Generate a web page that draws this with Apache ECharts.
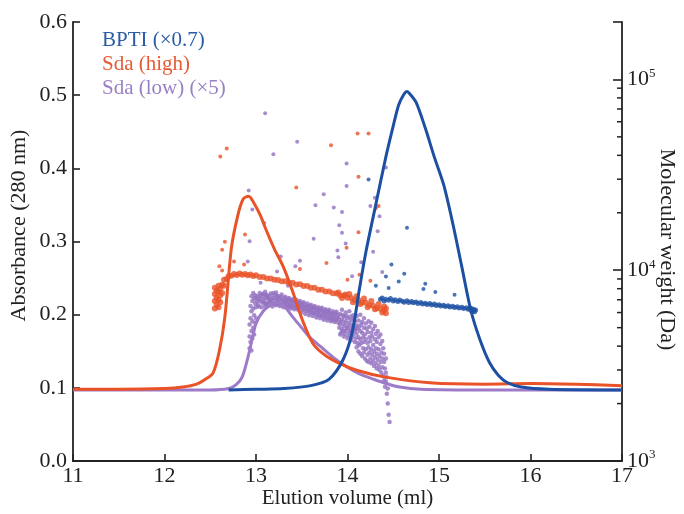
<!DOCTYPE html>
<html>
<head>
<meta charset="utf-8">
<script src="https://cdn.jsdelivr.net/npm/echarts@6/dist/echarts.min.js"></script>
<style>html,body{margin:0;padding:0;background:#fff;overflow:hidden;}#c{width:684px;height:514px;}</style>
</head>
<body>
<div id="c"></div>
<script>
// ---------- data ----------
const seriesNames = ['BPTI (×0.7)', 'Sda (high)', 'Sda (low) (×5)'];
const xTicks = [11, 12, 13, 14, 15, 16, 17];
const absTicks = [0.0, 0.1, 0.2, 0.3, 0.4, 0.5, 0.6];
const mwMajorTicks = [1000, 10000, 100000];
const mwMinorTicks = [2000, 3000, 4000, 5000, 6000, 7000, 8000, 9000,
                      20000, 30000, 40000, 50000, 60000, 70000, 80000, 90000];

// Absorbance traces (elution volume, absorbance)
const bptiX = [12.7, 13.0, 13.3, 13.6, 13.8, 13.95, 14.05, 14.13, 14.2, 14.3, 14.42, 14.5, 14.56, 14.62, 14.65, 14.68, 14.75, 14.85, 14.95, 15.05, 15.15, 15.25, 15.35, 15.45, 15.55, 15.65, 15.75, 15.9, 16.2, 17];
const bptiY = [0.097, 0.098, 0.099, 0.103, 0.112, 0.138, 0.175, 0.235, 0.285, 0.345, 0.416, 0.458, 0.487, 0.502, 0.505, 0.502, 0.49, 0.455, 0.415, 0.378, 0.325, 0.265, 0.205, 0.165, 0.135, 0.117, 0.107, 0.101, 0.098, 0.097];

const highX = [11, 11.5, 12.0, 12.2, 12.35, 12.45, 12.53, 12.6, 12.66, 12.73, 12.8, 12.86, 12.92, 12.98, 13.05, 13.11, 13.2, 13.3, 13.4, 13.5, 13.62, 13.75, 13.9, 14.1, 14.4, 14.9, 15.5, 16.0, 16.5, 17];
const highY = [0.098, 0.098, 0.099, 0.101, 0.105, 0.112, 0.12, 0.151, 0.197, 0.29, 0.335, 0.358, 0.362, 0.352, 0.335, 0.316, 0.29, 0.265, 0.232, 0.195, 0.161, 0.145, 0.134, 0.124, 0.115, 0.107, 0.105, 0.106, 0.105, 0.103];

const lowX = [11, 12, 12.5, 12.7, 12.78, 12.85, 12.93, 13.0, 13.08, 13.16, 13.24, 13.32, 13.4, 13.5, 13.58, 13.7, 13.84, 14.0, 14.13, 14.28, 14.42, 14.57, 14.8, 15.5, 16, 17];
const lowY = [0.097, 0.097, 0.097, 0.099, 0.104, 0.115, 0.151, 0.188, 0.205, 0.213, 0.216, 0.21, 0.197, 0.182, 0.17, 0.157, 0.142, 0.128, 0.119, 0.112, 0.106, 0.101, 0.098, 0.097, 0.097, 0.097];

// Molecular weight points (elution volume, Da)
const bptiMw = [[14.36,7050],[14.38,7150],[14.40,6900],[14.42,7050],[14.45,6950],[14.47,7100],[14.50,6900],[14.52,7000],[14.55,6850],[14.57,6980],[14.60,6880],[14.62,6800],[14.65,6920],[14.67,6780],[14.70,6850],[14.72,6750],[14.75,6820],[14.77,6700],[14.80,6780],[14.82,6650],[14.85,6720],[14.87,6620],[14.90,6700],[14.92,6580],[14.95,6650],[14.97,6540],[15.00,6600],[15.02,6500],[15.05,6560],[15.07,6460],[15.10,6520],[15.12,6420],[15.15,6480],[15.17,6380],[15.20,6440],[15.22,6340],[15.25,6400],[15.27,6300],[15.30,6360],[15.32,6250],[15.34,6330],[15.35,6150],[15.36,6280],[15.37,6100],[15.38,6230],[15.39,6050],[15.40,6180]];
const bptiMwOut = [[14.23,29900],[14.65,16700],[14.48,10700],[14.62,9590],[14.56,8730],[14.85,8490],[14.83,7960],[14.96,7680],[15.17,7430],[14.42,9280],[14.45,8060],[14.31,8300]];

const highMw = [[12.55,6300],[12.55,6900],[12.55,7500],[12.55,8100],[12.57,6600],[12.57,7200],[12.57,7800],[12.59,6400],[12.59,7000],[12.59,7700],[12.59,8300],[12.61,6800],[12.61,7400],[12.61,8000],[12.63,7600],[12.63,8400],[12.65,8300],[12.65,8900],[12.68,9000],[12.70,9300],[12.73,9350],[12.76,9550],[12.79,9450],[12.82,9600],[12.85,9480],[12.88,9560],[12.91,9400],[12.94,9500],[12.97,9330],[13.00,9420],[13.04,9220],[13.08,9200],[13.12,9060],[13.16,9040],[13.20,8910],[13.24,8890],[13.28,8740],[13.32,8740],[13.36,8580],[13.40,8590],[13.44,8410],[13.48,8430],[13.52,8260],[13.56,8260],[13.60,8090],[13.64,8090],[13.68,7910],[13.72,7890],[13.76,7740],[13.80,7740],[13.84,7570],[13.88,7540],[13.92,7380],[13.96,7370],[14.00,7180],[14.04,7160],[14.08,6980],[14.12,6960],[14.16,6780],[14.20,6760],[14.24,6560],[14.28,6520],[14.32,6330],[14.36,6290],[14.40,6110],[14.02,7500],[14.06,6800],[14.10,7300],[14.14,6650],[14.18,7100],[14.22,6400],[14.26,6900],[14.30,6250],[14.34,6650],[14.38,6000],[14.40,6450],[14.42,5950],[14.42,6300],[13.90,7650],[13.94,7150],[13.98,7450]];
const highMwOut = [[12.61,39400],[12.68,43400],[13.44,27100],[13.82,45200],[14.11,52100],[14.23,52100],[14.12,30900],[14.12,15800],[13.99,13100],[13.77,10900],[12.88,15400],[12.66,14100],[12.63,12800],[12.63,9960],[12.76,11100],[12.87,10700],[14.31,21200],[14.34,21700],[14.00,8910],[14.13,9470],[13.48,10150],[12.60,10500],[14.25,8800]];

const lowMw = [[12.93,3900],[12.93,4500],[12.93,5200],[12.94,4200],[12.94,5600],[12.94,6500],[12.95,3800],[12.95,4800],[12.95,6100],[12.95,7300],[12.96,4400],[12.96,5400],[12.96,6900],[12.97,5000],[12.97,6300],[12.97,7600],[12.98,4600],[12.98,5800],[12.98,7100],[12.99,5300],[12.99,6700],[12.99,7400],[13.00,5600],[13.00,6400],[13.00,7200],
[13.02,6600],[13.02,7300],[13.04,6900],[13.04,7600],[13.06,6400],[13.06,7100],[13.08,6800],[13.08,7450],[13.10,6500],[13.10,7200],[13.10,7700],[13.12,6750],[13.12,7350],[13.14,6600],[13.14,7050],[13.16,6900],[13.16,7550],[13.18,6450],[13.18,7150],[13.20,6700],[13.20,7400],[13.22,6550],[13.22,7000],[13.22,7650],[13.24,6800],[13.24,7300],[13.26,6500],[13.26,7100],[13.28,6700],[13.28,7450],[13.30,6400],[13.30,6950],[13.32,6650],[13.32,7250],[13.34,6350],[13.34,6900],[13.36,6550],[13.36,7150],[13.38,6300],[13.38,6850],[13.40,6500],[13.40,7050],[13.42,6250],[13.42,6800],[13.44,6450],[13.44,7000],[13.46,6200],[13.46,6700],[13.48,6400],[13.48,6900],
[13.50,6000],[13.50,6600],[13.52,6250],[13.52,6800],[13.54,5900],[13.54,6450],[13.56,6150],[13.56,6700],[13.58,5800],[13.58,6350],[13.60,6050],[13.60,6600],[13.62,5750],[13.62,6300],[13.64,5950],[13.64,6500],[13.66,5650],[13.66,6200],[13.68,5900],[13.68,6400],[13.70,5600],[13.70,6150],[13.72,5800],[13.72,6350],[13.74,5500],[13.74,6050],[13.76,5750],[13.76,6250],[13.78,5450],[13.78,6000],[13.80,5650],[13.80,6200],[13.82,5400],[13.82,5900],[13.84,5600],[13.84,6100],[13.86,5350],[13.86,5850],[13.88,5550],[13.88,6050],[13.90,5300],[13.90,5800],
[13.92,4600],[13.92,5200],[13.92,5900],[13.94,4900],[13.94,5500],[13.94,6200],[13.96,4500],[13.96,5100],[13.96,5700],[13.98,4800],[13.98,5400],[13.98,6000],[14.00,4400],[14.00,5000],[14.00,5600],[14.02,4700],[14.02,5300],[14.02,6100],[14.04,4300],[14.04,4900],[14.04,5500],[14.06,4600],[14.06,5200],[14.06,5800],[14.08,4200],[14.08,4800],[14.08,5400],
[14.10,3950],[14.10,4650],[14.10,5150],[14.10,5750],[14.11,4150],[14.11,4900],[14.12,3750],[14.12,4450],[14.12,5450],[14.13,4050],[14.13,5050],[14.14,3650],[14.14,4350],[14.14,4800],[14.14,5850],[14.15,4150],[14.15,5200],[14.16,3550],[14.16,4700],[14.16,5350],[14.17,3900],[14.17,4450],[14.18,3700],[14.18,4200],[14.18,5000],[14.18,5600],[14.19,3450],[14.19,4600],[14.20,3850],[14.20,4350],[14.20,5250],[14.21,3350],[14.21,4950],[14.22,3600],[14.22,4150],[14.22,4750],[14.23,3300],[14.23,3950],[14.23,5400],[14.24,3700],[14.24,4450],[14.24,5050],[14.25,3450],[14.25,4250],[14.26,3250],[14.26,3850],[14.26,4700],[14.26,5300],[14.27,3600],[14.27,4500],[14.28,3350],[14.28,4050],[14.28,4900],[14.29,3150],[14.29,3750],[14.30,3500],[14.30,4350],[14.30,5100],[14.31,3250],[14.31,3900],[14.31,4650],[14.32,3050],[14.32,3650],[14.32,4200],[14.33,3400],[14.33,4800],[14.34,3150],[14.34,3850],[14.34,4450],[14.35,3000],[14.35,3550],[14.36,3300],[14.36,4100],[14.36,4600],[14.37,2900],[14.37,3700],[14.38,3100],[14.38,3450],[14.38,4250],[14.39,2800],[14.39,3900],[14.40,2650],[14.40,3300],[14.40,3650],[14.41,2450],[14.41,3050],[14.42,2600],[14.42,2900],[14.42,3450],[14.43,2250],[14.43,2750],[14.44,2000],[14.44,2400],[14.45,1750],[14.46,1600],
[13.01,6900],[13.03,7050],[13.03,6450],[13.05,7350],[13.07,6750],[13.07,7500],[13.09,7000],[13.11,6650],[13.11,7450],[13.13,7150],[13.15,6800],[13.15,7350],[13.17,7000],[13.19,6750],[13.19,7600],[13.21,7100],[13.23,6650],[13.23,7350],[13.25,6950],[13.27,6600],[13.27,7250],[13.29,6900],[13.31,6550],[13.31,7150],[13.33,6800],[13.35,6450],[13.35,7050],[13.37,6700],[13.39,6400],[13.39,6950],[13.41,6650],[13.43,6350],[13.43,6900],[13.45,6600],[13.47,6300],[13.47,6800],[13.49,6500],[13.51,6200],[13.51,6700],[13.53,6400],[13.55,6100],[13.55,6550],[13.57,6300],[13.59,6000],[13.59,6500],[13.61,6250],[13.63,5950],[13.63,6400],[13.65,6100],[13.67,5800],[13.67,6300],[13.69,6050],[13.71,5750],[13.71,6250],[13.73,5950],[13.75,5650],[13.75,6150],[13.77,5900],[13.79,5600],[13.79,6100],[13.81,5800],[13.83,5500],[13.83,5950],[13.85,5700],[13.87,5450],[13.87,5950],[13.89,5650],[13.91,5000],[13.91,5550],[13.93,4700],[13.93,5350],[13.95,4800],[13.95,5800],[13.97,4650],[13.97,5250],[13.99,4950],[13.99,5750],[14.01,4550],[14.01,5150],[14.03,4800],[14.03,5700],[14.05,4450],[14.05,5050],[14.07,4900],[14.07,5600],[14.09,4400],[14.09,5000]];
const lowMwOut = [[13.10,66400],[13.45,47100],[13.19,40500],[12.92,26200],[12.96,20800],[13.09,17700],[13.99,36200],[13.99,27600],[13.74,25000],[13.65,21900],[13.85,21300],[13.94,20200],[13.91,17200],[13.94,15700],[13.63,14600],[13.89,12700],[13.90,11700],[12.93,14200],[12.91,11100],[13.27,11800],[13.48,11200],[13.43,10500],[13.23,9840],[14.42,34500],[14.25,21700],[14.35,19200],[14.30,24000],[14.33,16000],[14.28,12500],[14.15,11000],[14.38,9800],[14.05,9300],[13.98,13800],[13.05,8600],[13.35,8300]];

// ---------- chart ----------
const C_BLUE = '#1d50a2', C_RED = '#ea5228', C_PURPLE = '#9e7bc8';
const FONT = 'Liberation Serif';
const pairs = (xs, ys) => xs.map((x, i) => [x, ys[i]]);

const chart = echarts.init(document.getElementById('c'), null, {renderer: 'canvas'});
chart.setOption({
  animation: false,
  backgroundColor: '#fff',
  grid: {left: 73, right: 62, top: 22, bottom: 53, containLabel: false, outerBoundsMode: 'none'},
  legend: {
    orient: 'vertical', left: 92, top: 25, itemGap: 3, itemWidth: 0, itemHeight: 10,
    icon: 'none', selectedMode: false,
    textStyle: {fontFamily: FONT, fontSize: 21, lineHeight: 21},
    data: [
      {name: seriesNames[0], textStyle: {color: '#2a5ca5'}},
      {name: seriesNames[1], textStyle: {color: '#e65a34'}},
      {name: seriesNames[2], textStyle: {color: '#9b7fc4'}}
    ]
  },
  xAxis: {
    type: 'value', min: xTicks[0], max: xTicks[xTicks.length - 1], interval: 1,
    name: 'Elution volume (ml)', nameLocation: 'middle', nameGap: 27, nameMoveOverlap: false,
    nameTextStyle: {fontFamily: FONT, fontSize: 21, color: '#222'},
    axisLine: {lineStyle: {color: '#222', width: 1.8}},
    axisTick: {inside: true, length: 7, lineStyle: {color: '#222', width: 1.6}},
    axisLabel: {fontFamily: FONT, fontSize: 22, color: '#222', margin: 4},
    splitLine: {show: false}
  },
  yAxis: [{
    type: 'value', min: absTicks[0], max: absTicks[absTicks.length - 1], interval: 0.1,
    name: 'Absorbance (280 nm)', nameLocation: 'middle', nameGap: 43, nameMoveOverlap: false,
    nameTextStyle: {fontFamily: FONT, fontSize: 22, color: '#222', padding: [0, 0, 0, 32]},
    axisLine: {show: true, lineStyle: {color: '#222', width: 1.8}},
    axisTick: {show: true, inside: true, length: 7, lineStyle: {color: '#222', width: 1.6}},
    axisLabel: {fontFamily: FONT, fontSize: 22, color: '#222', margin: 6,
      formatter: v => v.toFixed(1)},
    splitLine: {show: false}
  }, {
    type: 'log', logBase: 10, min: mwMajorTicks[0], max: 200000, position: 'right',
    name: 'Molecular weight (Da)', nameLocation: 'middle', nameGap: 34, nameRotate: -90,
    nameMoveOverlap: false,
    nameTextStyle: {fontFamily: FONT, fontSize: 22, color: '#222', padding: [0, 0, 0, 16]},
    axisLine: {show: true, lineStyle: {color: '#222', width: 1.8}},
    axisTick: {show: true, inside: true, length: 9, lineStyle: {color: '#222', width: 1.6}},
    axisLabel: {
      margin: 5, color: '#222',
      formatter: v => {
        const e = Math.round(Math.log10(v));
        if (mwMajorTicks.some(t => Math.abs(t - v) / t < 1e-6)) return '{b|10}{s|' + e + '}';
        return '';
      },
      rich: {
        b: {fontFamily: FONT, fontSize: 22, color: '#222'},
        s: {fontFamily: FONT, fontSize: 13, color: '#222', padding: [0, 0, 12, 0]}
      }
    },
    splitLine: {show: false}
  }],
  series: [
    {name: 'Sda (low) MW', type: 'scatter', yAxisIndex: 1, symbolSize: 4.5, data: lowMw,
      itemStyle: {color: '#9270c0'}},
    {name: 'Sda (low) MW out', type: 'scatter', yAxisIndex: 1, symbolSize: 4, data: lowMwOut,
      itemStyle: {color: '#9270c0'}},
    {name: 'Sda (high) MW', type: 'scatter', yAxisIndex: 1, symbolSize: 6, data: highMw,
      itemStyle: {color: C_RED}},
    {name: 'Sda (high) MW out', type: 'scatter', yAxisIndex: 1, symbolSize: 4, data: highMwOut,
      itemStyle: {color: C_RED}},
    {name: 'BPTI MW', type: 'scatter', yAxisIndex: 1, symbolSize: 5, data: bptiMw,
      itemStyle: {color: C_BLUE}},
    {name: 'BPTI MW out', type: 'scatter', yAxisIndex: 1, symbolSize: 4, data: bptiMwOut,
      itemStyle: {color: C_BLUE}},
    {name: seriesNames[2], type: 'line', yAxisIndex: 0, data: pairs(lowX, lowY), smooth: 0.3,
      showSymbol: false, lineStyle: {color: C_PURPLE, width: 3}, itemStyle: {color: C_PURPLE}},
    {name: seriesNames[1], type: 'line', yAxisIndex: 0, data: pairs(highX, highY), smooth: 0.3,
      showSymbol: false, lineStyle: {color: C_RED, width: 3}, itemStyle: {color: C_RED}},
    {name: seriesNames[0], type: 'line', yAxisIndex: 0, data: pairs(bptiX, bptiY), smooth: 0.3,
      showSymbol: false, lineStyle: {color: C_BLUE, width: 3}, itemStyle: {color: C_BLUE}},
    {name: 'minor ticks', type: 'custom', xAxisIndex: 0, yAxisIndex: 1, silent: true, z: 5,
      data: mwMinorTicks.map(v => [xTicks[xTicks.length - 1], v]),
      renderItem: (params, api) => {
        const p = api.coord([api.value(0), api.value(1)]);
        return {type: 'line', shape: {x1: p[0] - 5, y1: p[1], x2: p[0], y2: p[1]},
          style: {stroke: '#222', lineWidth: 1.5}};
      }}
  ]
});
</script>
</body>
</html>
